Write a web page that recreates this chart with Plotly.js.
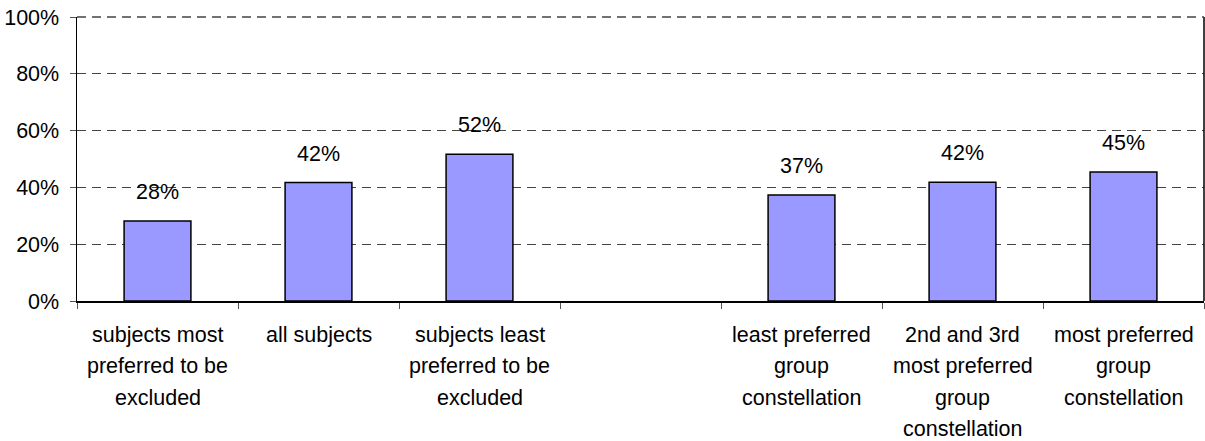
<!DOCTYPE html>
<html>
<head>
<meta charset="utf-8">
<script src="https://cdn.plot.ly/plotly-3.0.1.min.js"></script>
<style>html,body{margin:0;padding:0;background:#fff;}#chart{width:1205px;height:441px;}</style>
</head>
<body>
<div id="chart"></div>
<script>
// Categories (the 4th is an empty spacer slot)
const categories = [
  "subjects most\npreferred to be\nexcluded",
  "all subjects",
  "subjects least\npreferred to be\nexcluded",
  " ",
  "least preferred\ngroup\nconstellation",
  "2nd and 3rd\nmost preferred\ngroup\nconstellation",
  "most preferred\ngroup\nconstellation"
];
const values = [0.282, 0.417, 0.517, null, 0.373, 0.418, 0.454];
const valueLabels = ["28%", "42%", "52%", "", "37%", "42%", "45%"];
const yTicks = [0, 0.2, 0.4, 0.6, 0.8, 1.0];
const yTickLabels = ["0%", "20%", "40%", "60%", "80%", "100%"];

const FONT = "Liberation Sans, Arial, sans-serif";
const FS = 21.5;

const trace = {
  type: "bar",
  x: categories,
  y: values,
  width: 0.415,
  marker: {color: "#9999FF", line: {color: "#000", width: 1.5}},
  hoverinfo: "skip"
};

const annotations = [];
categories.forEach((c, i) => {
  if (valueLabels[i]) {
    annotations.push({
      x: c, y: values[i], xref: "x", yref: "y",
      text: valueLabels[i], showarrow: false,
      yanchor: "middle", yshift: 29,
      font: {family: FONT, size: FS, color: "#000"}
    });
  }
  c.split("\n").forEach((line, j) => {
    if (!line.trim()) return;
    annotations.push({
      x: c, y: 0, xref: "x", yref: "paper",
      text: line, showarrow: false,
      yanchor: "middle", yshift: -(34 + 31.3 * j),
      font: {family: FONT, size: FS, color: "#000"}
    });
  });
});

const layout = {
  width: 1205, height: 441,
  margin: {l: 77, r: 1, t: 17, b: 140},
  paper_bgcolor: "#fff", plot_bgcolor: "#fff",
  showlegend: false,
  font: {family: FONT, size: FS, color: "#000"},
  xaxis: {
    type: "category",
    range: [-0.5, 6.5],
    showticklabels: false,
    ticks: "outside", tickson: "boundaries", ticklen: 6, tickwidth: 1, tickcolor: "#555",
    showline: true, linecolor: "#000", linewidth: 1.5,
    showgrid: false, zeroline: false, fixedrange: true
  },
  yaxis: {
    range: [0, 1],
    tickvals: yTicks, ticktext: yTickLabels,
    ticks: "outside", ticklen: 6, tickwidth: 1, tickcolor: "#555",
    ticklabelstandoff: 6,
    showline: true, linecolor: "#000", linewidth: 1.5,
    showgrid: true, gridcolor: "#444", gridwidth: 1, griddash: "9px,6px",
    zeroline: false, fixedrange: true,
    tickfont: {family: FONT, size: FS, color: "#000"}
  },
  shapes: [
    {type: "line", xref: "paper", yref: "paper", x0: 1, x1: 1, y0: 0, y1: 1,
     line: {color: "#000", width: 1.5}},
    {type: "line", xref: "paper", yref: "paper", x0: 0, x1: 1, y0: 1, y1: 1,
     line: {color: "#444", width: 1.5, dash: "9px,6px"}}
  ],
  annotations: annotations
};

Plotly.newPlot("chart", [trace], layout, {displayModeBar: false, staticPlot: true});
</script>
</body>
</html>
